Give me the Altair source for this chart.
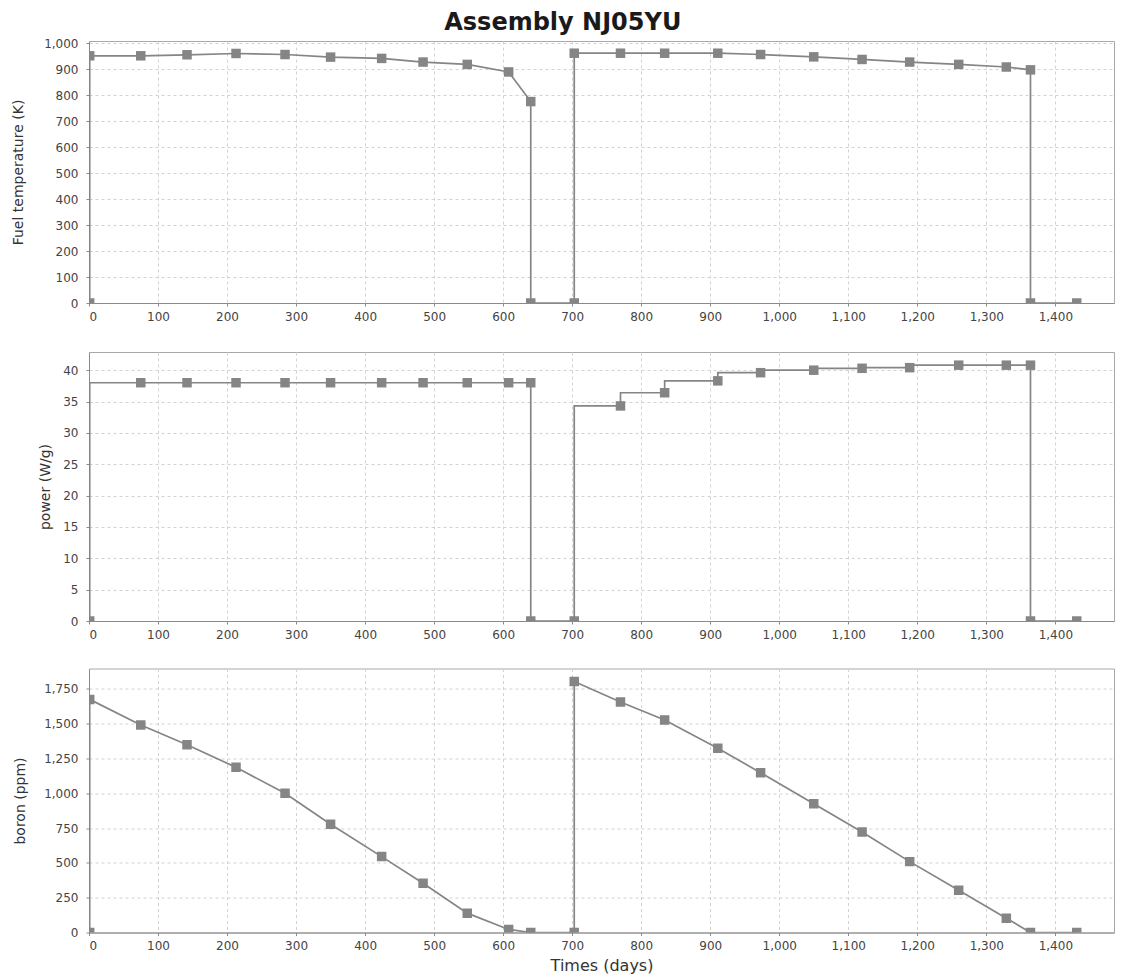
import altair as alt
import pandas as pd

# ---- data ----
t_temp = [1, 1, 75, 142, 213, 284, 350, 424, 484, 548, 608, 640, 640, 703, 703,
          770, 834, 911, 973, 1050, 1120, 1189, 1260, 1329, 1364, 1364, 1431]
v_temp = [0, 951, 951, 955, 960, 956, 946, 941, 927, 918, 889, 775, 0, 0, 961,
          961, 961, 961, 956, 947, 937, 927, 918, 908, 897, 0, 0]

t_power = [1, 75, 142, 213, 284, 350, 424, 484, 548, 608, 640, 640, 703,
           770, 834, 911, 973, 1050, 1120, 1189, 1260, 1329, 1364, 1364, 1431]
v_power = [0, 38, 38, 38, 38, 38, 38, 38, 38, 38, 38, 0, 0,
           34.3, 36.4, 38.3, 39.6, 40.0, 40.3, 40.4, 40.8, 40.8, 40.8, 0, 0]

t_boron = [1, 1, 75, 142, 213, 284, 350, 424, 484, 548, 608, 640, 703, 703,
           770, 834, 911, 973, 1050, 1120, 1189, 1260, 1329, 1364, 1431]
v_boron = [0, 1674, 1490, 1349, 1186, 1000, 778, 545, 354, 139, 22, 0, 0, 1803,
           1655, 1526, 1323, 1148, 925, 722, 509, 304, 103, 0, 0]

x_ticks = list(range(0, 1500, 100))
temp_ticks = list(range(0, 1001, 100))
power_ticks = list(range(0, 41, 5))
boron_ticks = list(range(0, 1751, 250))

title_text = "Assembly NJ05YU"
x_title = "Times (days)"

GRAY = "#858585"
W = 1025
XMAX = 1485


def panel(times, values, ytitle, ydomain, yticks, height, interp, show_xtitle, tpad):
    df = pd.DataFrame({"t": times, "v": values, "i": list(range(len(times)))})
    xenc = alt.X(
        "t:Q",
        scale=alt.Scale(domain=[0, XMAX], nice=False, zero=False),
        axis=alt.Axis(values=x_ticks, format=",d"),
        title=x_title if show_xtitle else None,
    )
    yenc = alt.Y(
        "v:Q",
        scale=alt.Scale(domain=ydomain, nice=False),
        axis=alt.Axis(values=yticks, format=",d", titlePadding=tpad),
        title=ytitle,
    )
    base = alt.Chart(df).encode(x=xenc, y=yenc, order="i:Q")
    line = base.mark_line(color=GRAY, strokeWidth=1.7, interpolate=interp, clip=True)
    pts = base.mark_point(shape="square", filled=True, size=90, color=GRAY,
                          opacity=1, clip=True)
    return alt.layer(line, pts).properties(width=W, height=height)


p1 = panel(t_temp, v_temp, "Fuel temperature (K)", [0, 1008], temp_ticks, 262,
           "linear", False, 18)
p2 = panel(t_power, v_power, "power (W/g)", [0, 42.9], power_ticks, 269,
           "step-before", False, 10)
p3 = panel(t_boron, v_boron, "boron (ppm)", [0, 1896], boron_ticks, 264,
           "linear", True, 16)

top = alt.vconcat(p1, p2, spacing=28)
chart = alt.vconcat(top, p3, spacing=26.5).properties(
    title=alt.TitleParams(title_text, font="DejaVu Sans", fontSize=24,
                          fontWeight="bold", color="#1a1a1a", anchor="middle",
                          offset=2),
    padding={"left": 3, "top": 2, "right": 0, "bottom": 0},
).configure_view(
    stroke="#a8a8a8", strokeWidth=1
).configure_axis(
    gridColor="#d2d2d2", gridDash=[3, 3], gridWidth=1,
    domainColor="#8a8a8a", tickColor="#8a8a8a", tickSize=3,
    labelFont="DejaVu Sans", labelFontSize=12, labelColor="#444444",
    labelPadding=5,
    titleFont="DejaVu Sans", titleFontSize=14, titleFontWeight="normal",
    titleColor="#333333",
).configure_axisY(
    labelPadding=8
).configure_axisX(
    titleFontSize=16, titlePadding=6
)

chart.save("out.html", embed_options={"renderer": "svg", "actions": False})
